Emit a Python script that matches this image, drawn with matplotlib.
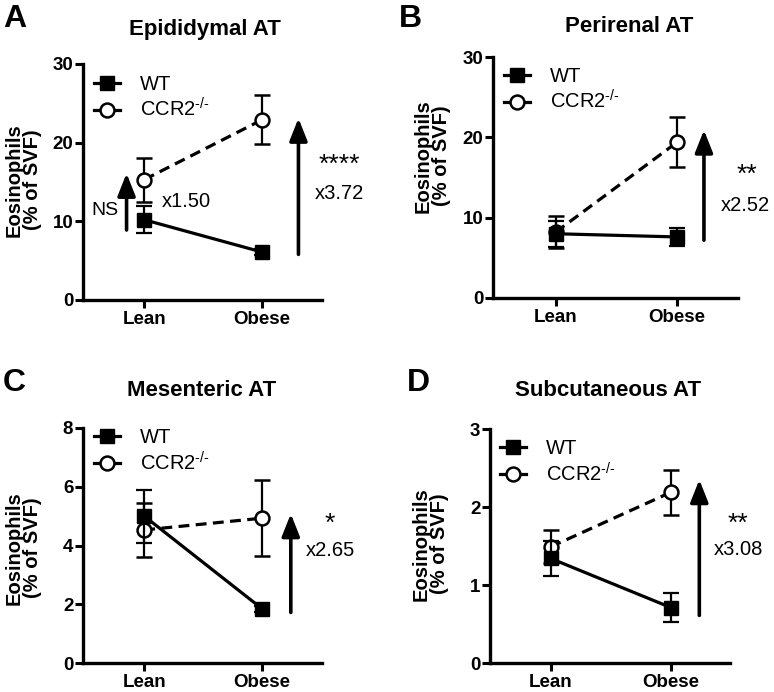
import matplotlib
matplotlib.use("Agg")
import matplotlib.pyplot as plt
from matplotlib.lines import Line2D

plt.rcParams["font.family"] = ["Liberation Sans", "DejaVu Sans"]
plt.rcParams["mathtext.fontset"] = "custom"
plt.rcParams["mathtext.rm"] = "Liberation Sans"
plt.rcParams["mathtext.it"] = "Liberation Sans:italic"
plt.rcParams["mathtext.bf"] = "Liberation Sans:bold"

GROUPS = ["Lean", "Obese"]

# Panel A - Epididymal AT
wt_a = [10.2, 6.1]
wt_a_err = [1.7, 0.4]
ccr2_a = [15.3, 22.9]
ccr2_a_err = [2.8, 3.1]

# Panel B - Perirenal AT
wt_b = [8.0, 7.6]
wt_b_err = [1.6, 1.1]
ccr2_b = [8.2, 19.4]
ccr2_b_err = [2.0, 3.1]

# Panel C - Mesenteric AT
wt_c = [5.0, 1.85]
wt_c_err = [0.9, 0.1]
ccr2_c = [4.53, 4.93]
ccr2_c_err = [0.92, 1.3]

# Panel D - Subcutaneous AT
wt_d = [1.34, 0.71]
wt_d_err = [0.23, 0.19]
ccr2_d = [1.49, 2.19]
ccr2_d_err = [0.21, 0.29]

TITLES = ["Epididymal AT", "Perirenal AT", "Mesenteric AT", "Subcutaneous AT"]
LETTERS = ["A", "B", "C", "D"]
YMAX = [30, 30, 8, 3]
YTICKS = [[0, 10, 20, 30], [0, 10, 20, 30], [0, 2, 4, 6, 8], [0, 1, 2, 3]]
STARS = ["****", "**", "*", "**"]
FOLDS = ["x3.72", "x2.52", "x2.65", "x3.08"]

# fold-change arrow spans (bottom, top) in data units
ARROWS = [(5.8, 23.1), (7.2, 20.9), (1.72, 5.08), (0.61, 2.35)]

W, H = 774, 692
# axes boxes in pixels: left, top, right, bottom
BOXES = [(83, 64, 322, 300), (493, 57, 738, 298), (83, 428, 322, 663), (490, 429, 730, 663)]
XLIMS = [(-0.52, 1.51), (-0.515, 1.50), (-0.52, 1.51), (-0.505, 1.49)]
ARROW_X = [1.31, 1.22, 1.245, 1.235]
STAR_POS = [(1.66, 17.2), (1.57, 15.3), (1.58, 4.75), (1.56, 1.79)]
FOLD_POS = [(1.66, 13.6), (1.56, 11.5), (1.58, 3.83), (1.56, 1.45)]
LEG_ANCHOR = [(0.045, 0.955), (0.045, 0.96), (0.045, 1.0), (0.04, 0.957)]
YLABEL_Y = [0.51, 0.59, 0.49, 0.51]
LETTER_POS = [(3, 4), (399, 4), (3, 368), (407, 368)]
TITLE_POS = [(205, 30), (629, 27), (202, 391), (608, 391)]

WT = [wt_a, wt_b, wt_c, wt_d]
WT_ERR = [wt_a_err, wt_b_err, wt_c_err, wt_d_err]
KO = [ccr2_a, ccr2_b, ccr2_c, ccr2_d]
KO_ERR = [ccr2_a_err, ccr2_b_err, ccr2_c_err, ccr2_d_err]

ARROW_STYLE = dict(arrowstyle="-|>,head_length=0.68,head_width=0.27", lw=2.6, color="black",
                   mutation_scale=20, shrinkA=0, shrinkB=0)

fig = plt.figure(figsize=(W / 100, H / 100), dpi=100)
x = list(range(len(GROUPS)))

for i in range(4):
    left, top, right, bottom = BOXES[i]
    ax = fig.add_axes([left / W, 1 - bottom / H, (right - left) / W, (bottom - top) / H])

    ax.errorbar(x, KO[i], yerr=KO_ERR[i], color="black", lw=2.3, dashes=(3.4, 2.0),
                marker="o", ms=10, mfc="white", mec="black", mew=1.8,
                ecolor="black", elinewidth=1.6, capsize=5.5, capthick=1.6, zorder=3)
    ax.errorbar(x, WT[i], yerr=WT_ERR[i], color="black", lw=2.3,
                marker="s", ms=10, mfc="black", mec="black",
                ecolor="black", elinewidth=1.6, capsize=5.5, capthick=1.6, zorder=4)

    ax.set_xlim(*XLIMS[i])
    ax.set_ylim(0, YMAX[i])
    ax.set_xticks(x)
    ax.set_xticklabels(GROUPS)
    ax.set_yticks(YTICKS[i])
    for lab in ax.get_xticklabels() + ax.get_yticklabels():
        lab.set_fontweight("bold")
        lab.set_fontsize(13.5)
    ax.tick_params(axis="both", width=2.2, length=6, color="black")
    ax.tick_params(axis="y", pad=1)
    ax.tick_params(axis="x", pad=2)
    for side in ("top", "right"):
        ax.spines[side].set_visible(False)
    for side in ("left", "bottom"):
        ax.spines[side].set_linewidth(2.4)

    ax.set_ylabel("Eosinophils\n(% of SVF)", fontsize=14.5, fontweight="bold", linespacing=1.0)
    ax.yaxis.set_label_coords(-0.17, YLABEL_Y[i])

    # fold-change arrow
    ax.annotate("", xy=(ARROW_X[i], ARROWS[i][1]), xytext=(ARROW_X[i], ARROWS[i][0]),
                arrowprops=ARROW_STYLE)
    ax.text(*STAR_POS[i], STARS[i], fontsize=19, ha="center", va="center")
    ax.text(*FOLD_POS[i], FOLDS[i], fontsize=14.5, ha="center", va="center")

    handles = [
        Line2D([], [], color="black", lw=2.3, marker="s", ms=10, mfc="black"),
        Line2D([], [], color="black", lw=2.3, marker="o", ms=10, mfc="white", mew=1.8),
    ]
    ax.legend(handles, ["WT", "CCR2$^{\u2010/\u2010}$"], loc="upper left",
              bbox_to_anchor=LEG_ANCHOR[i], frameon=False, fontsize=14.5,
              handlelength=1.3, handletextpad=1.0, labelspacing=0.2,
              borderpad=0, borderaxespad=0)

    fig.text(TITLE_POS[i][0] / W, 1 - TITLE_POS[i][1] / H, TITLES[i], fontsize=16,
             fontweight="bold", ha="center", va="center")
    fig.text(LETTER_POS[i][0] / W, 1 - LETTER_POS[i][1] / H, LETTERS[i], fontsize=23,
             fontweight="bold", ha="left", va="top")

# panel A: small lean comparison arrow
ax_a = fig.axes[0]
ax_a.annotate("", xy=(-0.15, 16.1), xytext=(-0.15, 8.9), arrowprops=ARROW_STYLE)
ax_a.text(-0.22, 11.4, "NS", fontsize=14, ha="right", va="center")
ax_a.text(0.15, 12.5, "x1.50", fontsize=14.5, ha="left", va="center")

fig.savefig("out.png", dpi=100)
